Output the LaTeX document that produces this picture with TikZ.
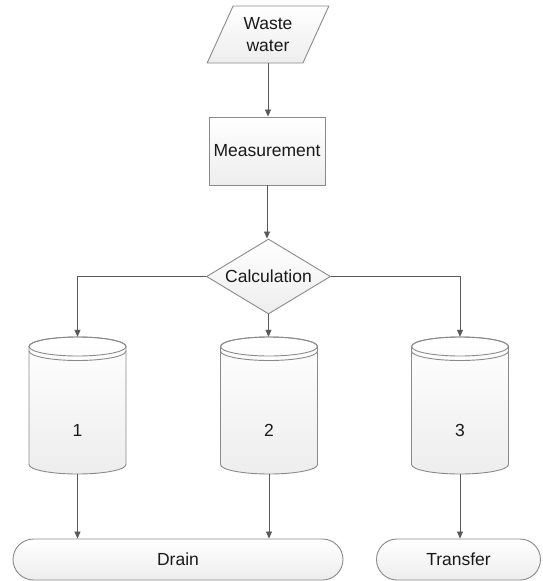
\documentclass[tikz,border=0pt]{standalone}
\usepackage{fontspec}
\setmainfont{Liberation Sans}
\usetikzlibrary{shapes.geometric,arrows.meta,backgrounds}
\definecolor{edgec}{HTML}{8A8A8A}
\definecolor{arrowc}{HTML}{595959}
\definecolor{txtc}{HTML}{1A1A1A}
\begin{document}
\begin{tikzpicture}[x=1pt,y=1pt,
  lbl/.style={font=\fontsize{17.5}{22}\selectfont, text=txtc, align=center},
  shapebox/.style={lbl, draw=edgec, line width=0.9pt, top color=white, bottom color=gray!14, inner sep=0pt},
  cylnode/.style={lbl, minimum width=97, minimum height=137, inner sep=0pt, text height=73pt, text depth=12pt},
  cylfill/.style={draw=edgec, line width=0.9pt, top color=white, bottom color=gray!14},
  cylline/.style={draw=edgec, line width=0.9pt},
  arr/.style={draw=arrowc, line width=0.8pt, -{Triangle[length=7pt,width=6pt]}},
]
\useasboundingbox (0,0) rectangle (542,-581);

% nodes
\node[shapebox, trapezium, trapezium left angle=62, trapezium right angle=118,
      trapezium stretches=true, minimum width=122, minimum height=57] (ww) at (268,-34.5) {Waste\\water};
\node[shapebox, rectangle, minimum width=116, minimum height=68] (meas) at (267,-151) {Measurement};
\node[shapebox, diamond, aspect=1.65, minimum width=124, minimum height=75] (calc) at (268.5,-276.5) {Calculation};
\node[cylnode] (c1) at (77.5,-405.5) {1};
\node[cylnode] (c2) at (269,-405.5) {2};
\node[cylnode] (c3) at (460,-405.5) {3};
\node[shapebox, rectangle, rounded corners=20.5pt, minimum width=330, minimum height=41] (drain) at (178,-559.5) {Drain};
\node[shapebox, rectangle, rounded corners=20.5pt, minimum width=164, minimum height=41] (transfer) at (458.5,-559.5) {Transfer};

% cylinder bodies
\begin{scope}[on background layer]
\foreach \cx in {77.5,269,460}{
  \path[cylfill] (\cx-48.5,-346.5) -- (\cx-48.5,-464.5)
     arc[start angle=180,end angle=360,x radius=48.5pt,y radius=9.5pt]
     -- (\cx+48.5,-346.5)
     arc[start angle=0,end angle=180,x radius=48.5pt,y radius=9.5pt] -- cycle;
  \path[cylline] (\cx,-346.5) ellipse[x radius=48.5pt,y radius=9.5pt];
  \path[cylline] (\cx-48.5,-351) arc[start angle=180,end angle=360,x radius=48.5pt,y radius=9.5pt];
}
\end{scope}

% connectors
\draw[arr] (ww.south) -- (ww.south |- meas.north);
\draw[arr] (meas.south) -- (meas.south |- calc.north);
\draw[arr] (calc.west) -| (c1.north);
\draw[arr] (calc.south) -- (calc.south |- c2.north);
\draw[arr] (calc.east) -| (c3.north);
\draw[arr] (c1.south) -- (c1.south |- drain.north);
\draw[arr] (c2.south) -- (c2.south |- drain.north);
\draw[arr] (c3.south) -- (c3.south |- transfer.north);
\end{tikzpicture}
\end{document}
